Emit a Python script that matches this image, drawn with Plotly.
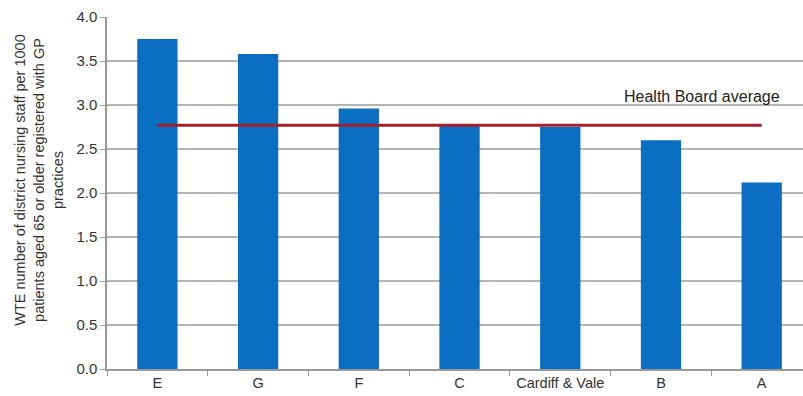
import plotly.graph_objects as go

# District nursing staffing by locality
localities = ["E", "G", "F", "C", "Cardiff & Vale", "B", "A"]
wte_per_1000 = [3.75, 3.58, 2.96, 2.77, 2.75, 2.60, 2.12]
board_average = 2.77
y_ticks = [0.0, 0.5, 1.0, 1.5, 2.0, 2.5, 3.0, 3.5, 4.0]

FONT = "Liberation Sans, Arial"

fig = go.Figure()
fig.add_trace(go.Bar(
    x=localities, y=wte_per_1000,
    marker=dict(color="#0a6fc2", line=dict(width=0)),
    width=0.40,
))
fig.add_trace(go.Scatter(
    x=[localities[0], localities[-1]], y=[board_average, board_average],
    mode="lines", line=dict(color="#a3202c", width=2.8),
))

fig.add_annotation(
    x=0.97, xref="paper", y=3.10, yref="y",
    text="Health Board average", showarrow=False,
    xanchor="right", yanchor="middle",
    font=dict(family=FONT, size=16, color="#222"),
)
fig.add_annotation(
    x=-0.098, xref="paper", y=0.537, yref="paper",
    text="WTE number of district nursing staff per 1000<br>patients aged 65 or older registered with GP<br>practices",
    showarrow=False, textangle=-90, xanchor="center", yanchor="middle",
    font=dict(family=FONT, size=14.5, color="#333"),
)

fig.update_layout(
    width=803, height=396,
    margin=dict(l=107, r=0, t=17, b=27),
    paper_bgcolor="white", plot_bgcolor="white",
    showlegend=False,
    font=dict(family=FONT, size=14.5, color="#333"),
)
fig.update_xaxes(
    range=[-0.5, 6.41],
    showline=True, linecolor="#999", linewidth=1.5,
    ticks="outside", tickson="boundaries", ticklen=5, tickcolor="#999",
    showgrid=False, tickfont=dict(size=14.5),
)
fig.update_yaxes(
    range=[0, 4], tickvals=y_ticks, ticktext=[f"{v:.1f}" for v in y_ticks],
    showline=True, linecolor="#999", linewidth=1.5,
    ticks="outside", ticklen=5, tickcolor="#999",
    showgrid=True, gridcolor="#b4b4b4", gridwidth=1.5,
    zeroline=False, tickfont=dict(size=15),
)

fig.write_html("out.html")
